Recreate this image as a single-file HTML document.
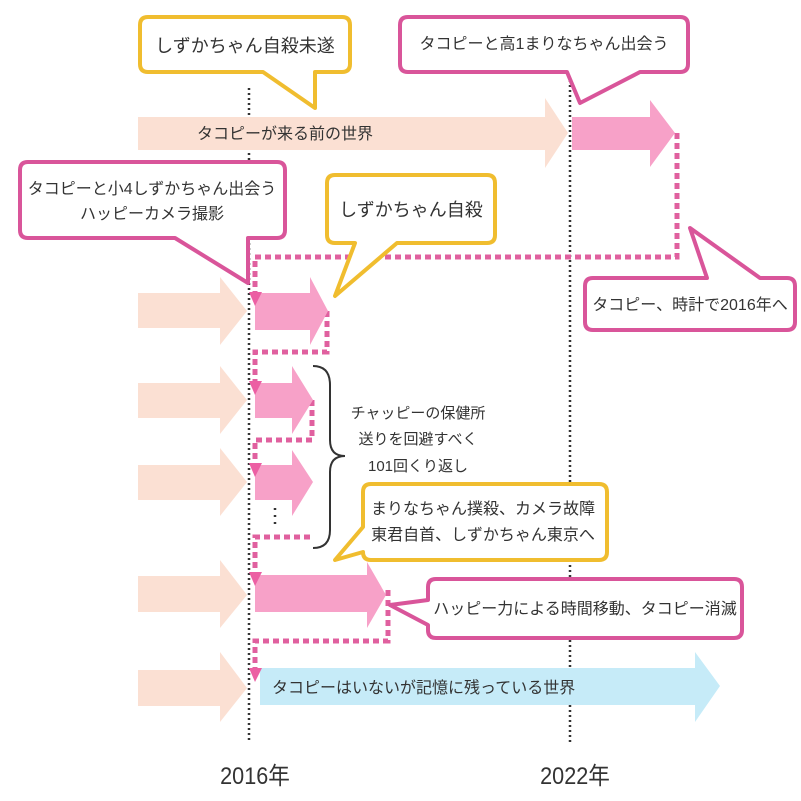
<!DOCTYPE html>
<html><head><meta charset="utf-8"><style>
body{margin:0;background:#fff}
svg{display:block}
text{font-family:"Liberation Sans","Noto Sans CJK JP",sans-serif;fill:#333}
</style></head><body>
<svg width="801" height="801" viewBox="0 0 801 801" xmlns="http://www.w3.org/2000/svg">
<!-- vertical time lines -->
<line x1="249" y1="88" x2="249" y2="742" stroke="#333" stroke-width="2.5" stroke-dasharray="2,3"/>
<line x1="570" y1="75" x2="570" y2="742" stroke="#333" stroke-width="2.5" stroke-dasharray="2,3"/>

<g fill="none" stroke="#e0609f" stroke-width="5" stroke-dasharray="6,4">
<polyline points="677,133 677,257 255,257 255,292"/>
<polyline points="327,311 327,352 255,352 255,382"/>
<polyline points="312,400 312,440 255,440 255,464"/>
<polyline points="310,537 255,537 255,572"/>
<polyline points="388,590 388,641 255,641 255,668"/>
</g>

<!-- top row -->
<polygon points="138,117 545,117 545,98 568,133 545,168 545,150 138,150" fill="#fbe0d3"/>
<polygon points="572,117 650,117 650,100 675,133 650,167 650,150 572,150" fill="#f7a1c8"/>

<!-- row 2 -->
<polygon points="138,293 220,293 220,277 247,311 220,345 220,328 138,328" fill="#fbe0d3"/>
<polygon points="255,293 310,293 310,277 328,311 310,345 310,330 255,330" fill="#f7a1c8"/>
<polygon points="249,292 262,292 255,306" fill="#ec5fa3"/>

<!-- row 3 -->
<polygon points="138,383 220,383 220,366 247,400 220,434 220,418 138,418" fill="#fbe0d3"/>
<polygon points="255,383 292,383 292,366 313,400 292,434 292,418 255,418" fill="#f7a1c8"/>
<polygon points="249,381 262,381 255,395" fill="#ec5fa3"/>

<!-- row 4 -->
<polygon points="138,465 220,465 220,448 247,482 220,516 220,500 138,500" fill="#fbe0d3"/>
<polygon points="255,465 292,465 292,450 313,482 292,516 292,500 255,500" fill="#f7a1c8"/>
<polygon points="249,463 262,463 255,477" fill="#ec5fa3"/>
<line x1="275" y1="508" x2="275" y2="526" stroke="#333" stroke-width="2.5" stroke-dasharray="2,5"/>

<!-- brace -->
<path d="M313,366 Q330,366 330,385 L330,440 Q330,456 345,456 Q330,456 330,472 L330,530 Q330,548 313,548" fill="none" stroke="#333" stroke-width="2"/>
<text x="418" y="418" font-size="15" text-anchor="middle">チャッピーの保健所</text>
<text x="418" y="444" font-size="15" text-anchor="middle">送りを回避すべく</text>
<text x="418" y="471" font-size="15" text-anchor="middle">101回くり返し</text>

<!-- row 5 -->
<polygon points="138,576 220,576 220,560 247,595 220,628 220,612 138,612" fill="#fbe0d3"/>
<polygon points="255,575 367,575 367,562 386,595 367,628 367,612 255,612" fill="#f7a1c8"/>
<polygon points="249,572 262,572 255,586" fill="#ec5fa3"/>

<!-- row 6 -->
<polygon points="138,670 220,670 220,652 247,688 220,722 220,706 138,706" fill="#fbe0d3"/>
<polygon points="260,668 695,668 695,652 720,686 695,722 695,705 260,705" fill="#c6ebf8"/>
<polygon points="249,668 262,668 255,682" fill="#ec5fa3"/>
<text x="272" y="693" font-size="16">タコピーはいないが記憶に残っている世界</text>
<text x="197" y="139" font-size="16">タコピーが来る前の世界</text>

<!-- callouts -->
<path d="M148,17 H342 Q350,17 350,25 V64 Q350,72 342,72 H315 V108 L263,72 H148 Q140,72 140,64 V25 Q140,17 148,17 Z" fill="#fff" stroke="#f0bd2f" stroke-width="4" stroke-linejoin="round"/>
<text x="245" y="52" font-size="18" text-anchor="middle">しずかちゃん自殺未遂</text>

<path d="M408,17 H680 Q688,17 688,25 V64 Q688,72 680,72 H640 L580,103 L567,72 H408 Q400,72 400,64 V25 Q400,17 408,17 Z" fill="#fff" stroke="#d9559a" stroke-width="4" stroke-linejoin="round"/>
<text x="544" y="49" font-size="16" text-anchor="middle">タコピーと高1まりなちゃん出会う</text>

<path d="M28,162 H277 Q285,162 285,170 V230 Q285,238 277,238 H248 V283 L175,238 H28 Q20,238 20,230 V170 Q20,162 28,162 Z" fill="#fff" stroke="#d9559a" stroke-width="4" stroke-linejoin="round"/>
<text x="152" y="194" font-size="16" text-anchor="middle">タコピーと小4しずかちゃん出会う</text>
<text x="152" y="219" font-size="16" text-anchor="middle">ハッピーカメラ撮影</text>

<path d="M335,175 H487 Q495,175 495,183 V235 Q495,243 487,243 H397 L335,296 L355,243 H335 Q327,243 327,235 V183 Q327,175 335,175 Z" fill="#fff" stroke="#f0bd2f" stroke-width="4" stroke-linejoin="round"/>
<text x="411" y="216" font-size="18" text-anchor="middle">しずかちゃん自殺</text>

<path d="M593,278 H707 L690,228 L760,278 H787 Q795,278 795,286 V322 Q795,330 787,330 H593 Q585,330 585,322 V286 Q585,278 593,278 Z" fill="#fff" stroke="#d9559a" stroke-width="4" stroke-linejoin="round"/>
<text x="690" y="310" font-size="16" text-anchor="middle">タコピー、時計で2016年へ</text>

<path d="M371,484 H599 Q607,484 607,492 V552 Q607,560 599,560 H371 Q363,560 363,552 L335,560 L363,527 V492 Q363,484 371,484 Z" fill="#fff" stroke="#f0bd2f" stroke-width="4" stroke-linejoin="round"/>
<text x="483" y="514" font-size="16" text-anchor="middle">まりなちゃん撲殺、カメラ故障</text>
<text x="483" y="540" font-size="16" text-anchor="middle">東君自首、しずかちゃん東京へ</text>

<path d="M436,579 H734 Q742,579 742,587 V630 Q742,638 734,638 H436 Q428,638 428,630 V625 L390,605 L428,600 V587 Q428,579 436,579 Z" fill="#fff" stroke="#d9559a" stroke-width="4" stroke-linejoin="round"/>
<text x="585" y="614" font-size="16" text-anchor="middle">ハッピー力による時間移動、タコピー消滅</text>

<text x="255" y="784" font-size="24" text-anchor="middle" transform="translate(255 0) scale(0.9 1) translate(-255 0)">2016年</text>
<text x="575" y="784" font-size="24" text-anchor="middle" transform="translate(575 0) scale(0.9 1) translate(-575 0)">2022年</text>
</svg>
</body></html>
